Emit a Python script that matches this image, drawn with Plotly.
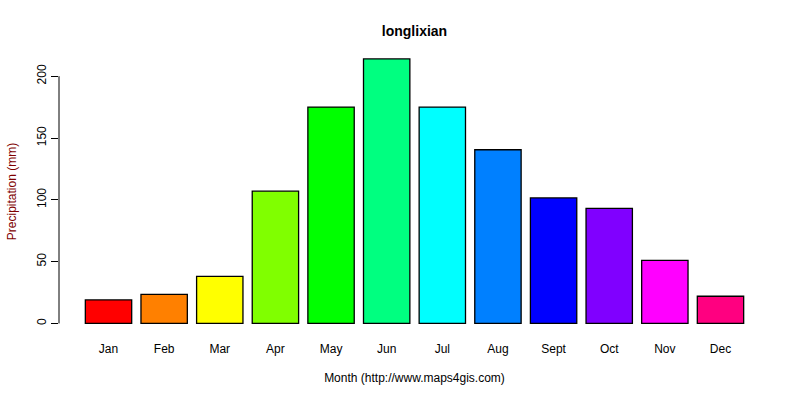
import plotly.graph_objects as go

months = ["Jan", "Feb", "Mar", "Apr", "May", "Jun", "Jul", "Aug", "Sept", "Oct", "Nov", "Dec"]
precip = [19, 23.5, 38, 107, 175, 214, 175, 140.5, 101.5, 93, 51, 22]
colors = ["#FF0000", "#FF8000", "#FFFF00", "#80FF00", "#00FF00", "#00FF80",
          "#00FFFF", "#0080FF", "#0000FF", "#8000FF", "#FF00FF", "#FF0080"]
yticks = [0, 50, 100, 150, 200]

font = "Liberation Sans, Arial, sans-serif"

fig = go.Figure(go.Bar(
    x=months, y=precip,
    marker=dict(color=colors, line=dict(color="black", width=1.3)),
))

fig.update_layout(
    width=800, height=400,
    margin=dict(l=59, r=30, t=49, b=66, autoexpand=False),
    paper_bgcolor="white", plot_bgcolor="white",
    bargap=0.2 / 1.2,
    showlegend=False,
    font=dict(family=font, size=12, color="black"),
    title=dict(text="<b>longlixian</b>", x=0.5, xref="paper", xanchor="center",
               y=1 - 31 / 400, yanchor="middle", font=dict(size=14, color="black")),
    xaxis=dict(range=[-0.89, 11.89], showline=False, showgrid=False, zeroline=False,
               automargin=False,
               ticks="outside", ticklen=4, tickcolor="rgba(0,0,0,0)",
               tickfont=dict(size=12, color="black"),
               title=dict(text="Month (http://www.maps4gis.com)", standoff=18,
                          font=dict(size=12, color="black"))),
    yaxis=dict(range=[-8.54, 222], showline=False, showgrid=False, zeroline=False,
               automargin=False,
               tickvals=yticks, ticks="outside", ticklen=7, tickcolor="black", tickwidth=1,
               tickangle=-90, tickfont=dict(size=12, color="black"),
               title=dict(text="Precipitation (mm)", standoff=16,
                          font=dict(size=12, color="#800000"))),
    shapes=[dict(type="line", xref="paper", yref="y", x0=0, x1=0, y0=0, y1=200,
                 line=dict(color="black", width=1))],
)

fig.write_html("out.html", config={"displayModeBar": False})

with open("out.html", encoding="utf-8") as f:
    html = f.read()
html = html.replace("<body>", '<body style="margin:0;padding:0">', 1)
with open("out.html", "w", encoding="utf-8") as f:
    f.write(html)
